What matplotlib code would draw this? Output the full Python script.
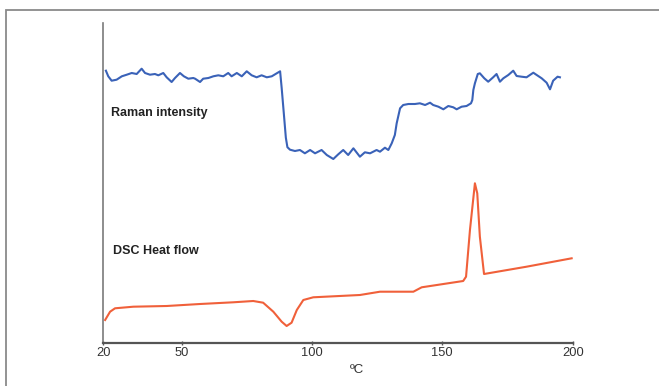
import matplotlib
matplotlib.use("Agg")
import matplotlib.pyplot as plt
from matplotlib.lines import Line2D

# ---- data ----
raman_T = [21.0, 21.9, 23.2, 25.1, 27.1, 29.0, 30.9, 32.8, 34.7, 36.0, 37.9, 39.8, 41.1, 43.0,
           44.3, 46.2, 47.5, 49.4, 50.9, 52.6, 54.5, 55.2, 57.1, 58.3, 60.3, 62.2, 64.1, 66.0,
           67.9, 69.2, 71.2, 73.1, 75.0, 76.9, 78.8, 80.7, 82.7, 84.6, 86.7, 87.8, 88.4, 89.2,
           90.0, 90.6, 91.6, 93.5, 95.4, 97.3, 99.3, 101.2, 103.7, 105.7, 108.2, 110.1, 112.0,
           113.9, 115.9, 118.4, 120.3, 122.3, 124.8, 126.1, 128.0, 129.3, 130.6, 131.8, 132.5,
           133.8, 135.0, 137.0, 139.5, 141.4, 143.4, 145.3, 146.5, 148.5, 150.4, 152.3, 154.2,
           155.5, 157.4, 159.3, 161.0, 161.5, 161.9, 162.5, 163.6, 164.4, 166.1, 167.6, 169.5,
           170.8, 172.1, 173.4, 175.3, 177.2, 178.5, 180.4, 182.3, 184.9, 186.2, 188.1, 190.0,
           191.3, 192.5, 194.2, 195.1]
raman_I = [272.0, 266.4, 262.0, 263.0, 266.4, 268.0, 269.7, 268.7, 274.0, 269.7, 268.0, 268.7,
           267.4, 269.7, 265.4, 260.7, 264.7, 269.7, 266.4, 264.0, 264.7, 264.0, 260.7, 264.0,
           264.7, 266.4, 267.4, 266.4, 269.7, 266.4, 269.7, 266.4, 271.4, 267.4, 265.4, 267.4,
           265.4, 266.4, 269.7, 271.4, 254.7, 230.0, 205.0, 195.5, 193.0, 191.7, 192.7, 189.4,
           192.7, 189.4, 192.7, 187.7, 183.7, 188.4, 192.7, 187.7, 194.4, 186.0, 190.4, 189.4,
           192.7, 191.0, 195.0, 192.7, 199.4, 207.7, 219.4, 234.4, 237.7, 238.7, 238.7, 239.4,
           237.7, 240.0, 237.7, 236.0, 233.4, 236.7, 235.4, 233.4, 236.0, 236.7, 239.4, 242.7,
           252.7, 259.4, 268.7, 269.4, 264.4, 261.0, 265.4, 268.7, 261.0, 264.4, 267.7, 272.0,
           266.7, 266.0, 265.4, 270.0, 267.7, 264.4, 260.0, 253.4, 262.0, 266.0, 265.4]

dsc_T = [20.7, 22.6, 24.5, 31.5, 44.3, 57.1, 69.8, 77.5, 81.3, 85.2, 88.4, 90.3, 92.2, 94.2,
         96.7, 100.5, 118.4, 126.1, 138.9, 142.1, 158.0, 159.1, 160.6, 162.5, 163.4, 164.4,
         166.0, 182.3, 199.6]
dsc_H = [22.7, 31.0, 34.4, 36.0, 36.7, 38.7, 40.4, 41.7, 40.0, 31.0, 21.0, 16.7, 20.0, 32.7,
         42.7, 45.4, 47.7, 51.0, 51.0, 55.4, 61.7, 66.0, 112.7, 159.4, 149.4, 106.0, 68.7,
         76.0, 84.4]

xticks = [20, 50, 100, 150, 200]
xlabel = "ºC"
label_raman = "Raman intensity"
label_dsc = "DSC Heat flow"

# ---- figure ----
plt.rcParams['font.family'] = ['Liberation Sans', 'DejaVu Sans']
W, H = 659, 386
fig = plt.figure(figsize=(W / 100, H / 100), dpi=100)

# outer frame
fx = 6 / W
fy = 1 - 10 / H
fig.add_artist(Line2D([fx, fx, 1.01], [-0.01, fy, fy], transform=fig.transFigure,
                      color="#8a8a8a", lw=1.3, solid_joinstyle="miter"))

left, right = 103.3 / W, 572.7 / W
bottom, top = 1 - 342.7 / H, 1 - 22.5 / H
ax = fig.add_axes([left, bottom, right - left, top - bottom])

ax.plot(raman_T, raman_I, color="#3a62b8", lw=1.5, solid_joinstyle="round")
ax.plot(dsc_T, dsc_H, color="#f0603a", lw=1.5, solid_joinstyle="round")

ax.set_xlim(20, 200)
ax.set_ylim(0, 320.2)
ax.set_xticks(xticks)
ax.set_xticklabels([str(t) for t in xticks])
ax.set_yticks([])

for s in ("top", "right"):
    ax.spines[s].set_visible(False)
ax.spines["left"].set_color("#7a7a7a")
ax.spines["left"].set_linewidth(1.2)
ax.spines["bottom"].set_color("#555555")
ax.spines["bottom"].set_linewidth(1.6)

ax.tick_params(axis="x", length=2.5, width=1, color="#555555", direction="inout",
               labelsize=9.3, labelcolor="#333333", pad=2)

ax.set_xlabel(xlabel, fontsize=9.5, color="#333333")
ax.xaxis.set_label_coords((357 - 103.3) / (572.7 - 103.3), -0.065)

ax.text(22.9, 342.7 - 113.3, label_raman, fontsize=9.0, fontweight="bold",
        color="#222222", va="center", ha="left")
ax.text(23.8, 342.7 - 251, label_dsc, fontsize=9.0, fontweight="bold",
        color="#222222", va="center", ha="left")

fig.savefig("out.png", dpi=100)
